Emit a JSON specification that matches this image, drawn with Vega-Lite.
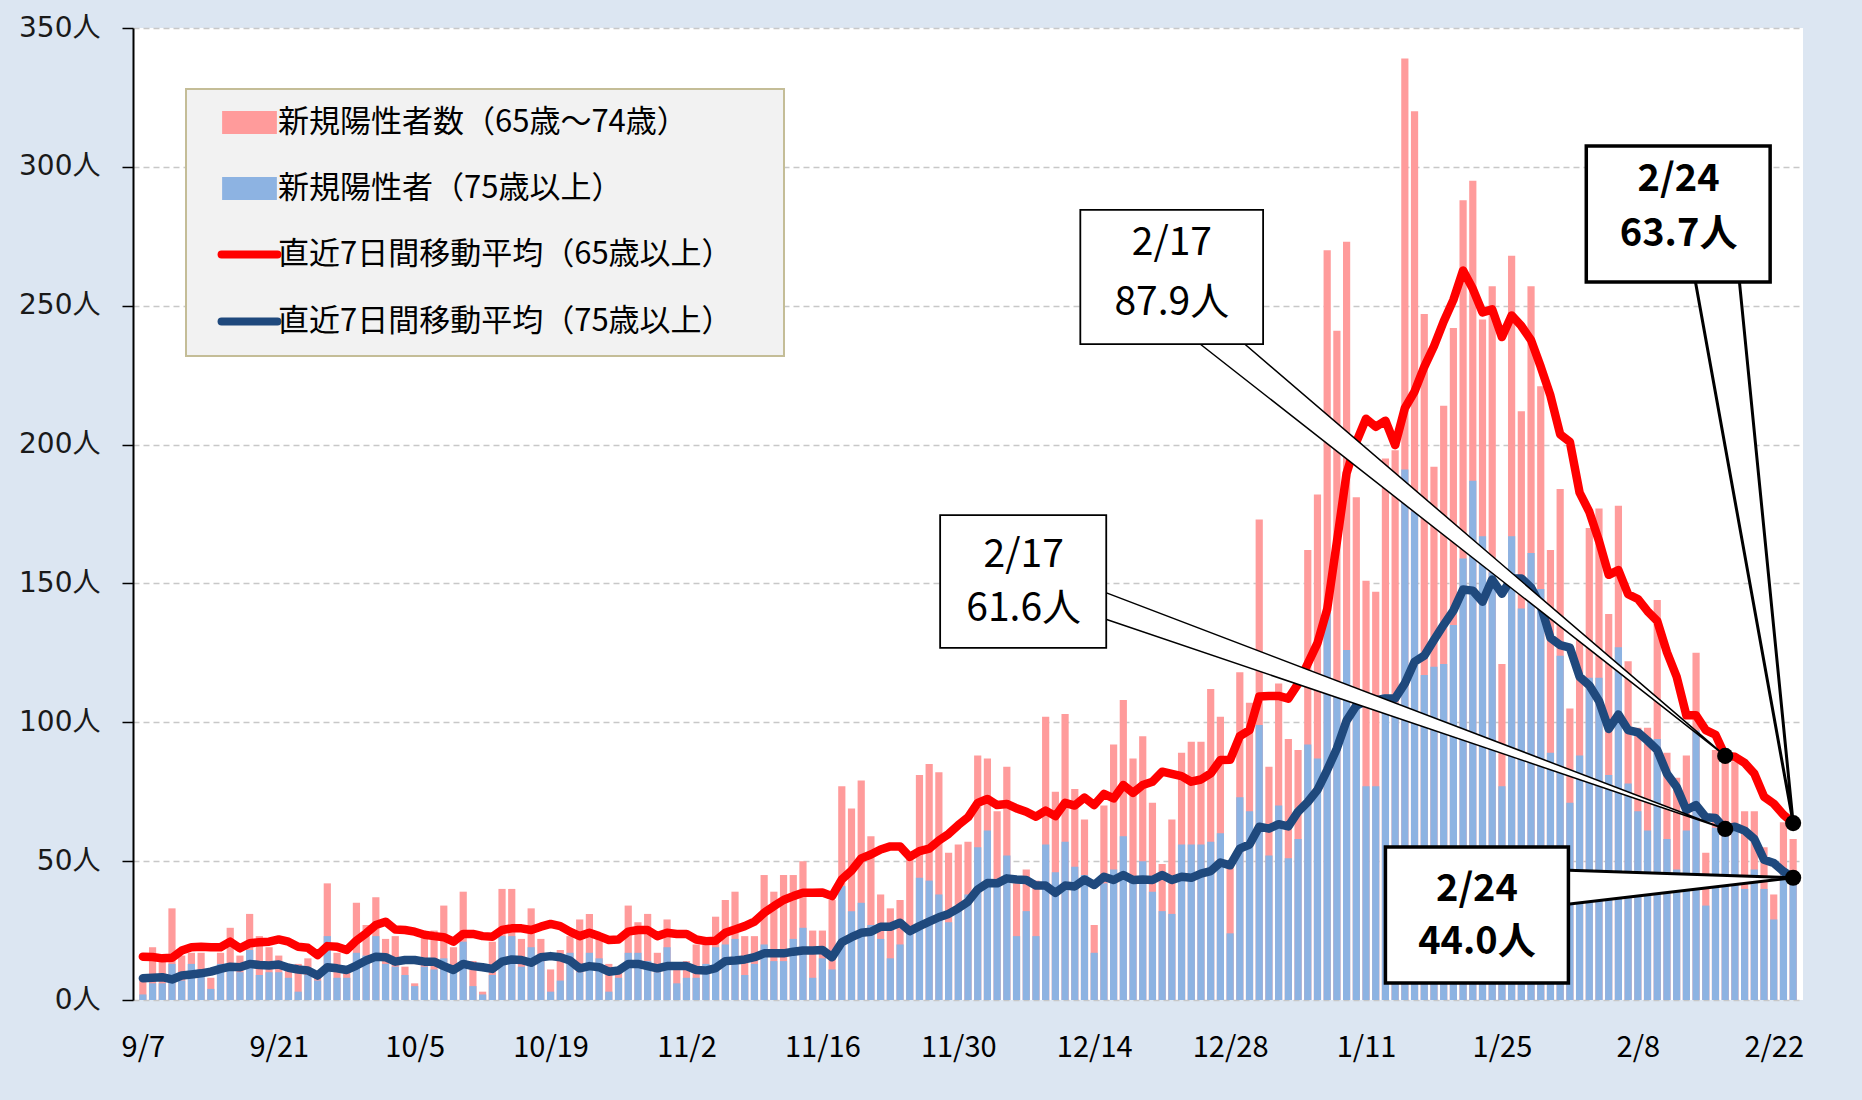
{
  "$schema": "https://vega.github.io/schema/vega-lite/v6.json",
  "width": 1670,
  "height": 972,
  "autosize": {"type": "none"},
  "padding": {"left": 133, "top": 28, "right": 59, "bottom": 100},
  "background": "#dce6f2",
  "config": {
    "view": {"fill": "white", "stroke": null},
    "font": "Noto Sans CJK JP"
  },
  "datasets": {
    "daily": [
      {"date":"2020-09-07","total65":7,"over75":2,"avg65":15.6,"avg75":7.8},
      {"date":"2020-09-08","total65":19,"over75":6,"avg65":15.5,"avg75":8.0},
      {"date":"2020-09-09","total65":14,"over75":6,"avg65":15.0,"avg75":8.2},
      {"date":"2020-09-10","total65":33,"over75":13,"avg65":15.2,"avg75":7.4},
      {"date":"2020-09-11","total65":16,"over75":7,"avg65":17.8,"avg75":8.8},
      {"date":"2020-09-12","total65":17,"over75":13,"avg65":19.0,"avg75":9.2},
      {"date":"2020-09-13","total65":17,"over75":11,"avg65":19.2,"avg75":9.6},
      {"date":"2020-09-14","total65":8,"over75":4,"avg65":19.0,"avg75":10.2},
      {"date":"2020-09-15","total65":17,"over75":13,"avg65":19.0,"avg75":11.2},
      {"date":"2020-09-16","total65":26,"over75":12,"avg65":21.0,"avg75":12.0},
      {"date":"2020-09-17","total65":16,"over75":10,"avg65":18.6,"avg75":11.8},
      {"date":"2020-09-18","total65":31,"over75":18,"avg65":20.4,"avg75":13.0},
      {"date":"2020-09-19","total65":23,"over75":9,"avg65":20.8,"avg75":12.6},
      {"date":"2020-09-20","total65":19,"over75":10,"avg65":21.0,"avg75":12.4},
      {"date":"2020-09-21","total65":16,"over75":10,"avg65":21.8,"avg75":12.8},
      {"date":"2020-09-22","total65":13,"over75":8,"avg65":21.0,"avg75":11.6},
      {"date":"2020-09-23","total65":13,"over75":3,"avg65":19.2,"avg75":11.0},
      {"date":"2020-09-24","total65":15,"over75":9,"avg65":18.8,"avg75":10.6},
      {"date":"2020-09-25","total65":10,"over75":7,"avg65":16.2,"avg75":8.8},
      {"date":"2020-09-26","total65":42,"over75":23,"avg65":19.4,"avg75":11.8},
      {"date":"2020-09-27","total65":17,"over75":8,"avg65":19.2,"avg75":11.4},
      {"date":"2020-09-28","total65":10,"over75":8,"avg65":18.0,"avg75":10.8},
      {"date":"2020-09-29","total65":35,"over75":17,"avg65":21.4,"avg75":12.4},
      {"date":"2020-09-30","total65":27,"over75":16,"avg65":24.0,"avg75":14.2},
      {"date":"2020-10-01","total65":37,"over75":23,"avg65":27.0,"avg75":15.6},
      {"date":"2020-10-02","total65":22,"over75":13,"avg65":28.2,"avg75":15.4},
      {"date":"2020-10-03","total65":23,"over75":12,"avg65":25.4,"avg75":13.8},
      {"date":"2020-10-04","total65":12,"over75":9,"avg65":25.2,"avg75":14.4},
      {"date":"2020-10-05","total65":6,"over75":5,"avg65":24.6,"avg75":14.4},
      {"date":"2020-10-06","total65":23,"over75":12,"avg65":23.5,"avg75":13.8},
      {"date":"2020-10-07","total65":25,"over75":11,"avg65":23.0,"avg75":13.8},
      {"date":"2020-10-08","total65":34,"over75":15,"avg65":22.6,"avg75":12.2},
      {"date":"2020-10-09","total65":19,"over75":10,"avg65":21.0,"avg75":10.8},
      {"date":"2020-10-10","total65":39,"over75":21,"avg65":23.8,"avg75":13.0},
      {"date":"2020-10-11","total65":14,"over75":5,"avg65":23.8,"avg75":12.2},
      {"date":"2020-10-12","total65":3,"over75":2,"avg65":23.0,"avg75":11.8},
      {"date":"2020-10-13","total65":21,"over75":9,"avg65":22.8,"avg75":11.2},
      {"date":"2020-10-14","total65":40,"over75":23,"avg65":25.2,"avg75":13.8},
      {"date":"2020-10-15","total65":40,"over75":23,"avg65":25.8,"avg75":14.6},
      {"date":"2020-10-16","total65":22,"over75":12,"avg65":25.8,"avg75":14.4},
      {"date":"2020-10-17","total65":33,"over75":19,"avg65":25.2,"avg75":13.4},
      {"date":"2020-10-18","total65":22,"over75":14,"avg65":26.4,"avg75":15.4},
      {"date":"2020-10-19","total65":11,"over75":3,"avg65":27.4,"avg75":15.8},
      {"date":"2020-10-20","total65":18,"over75":7,"avg65":26.6,"avg75":15.4},
      {"date":"2020-10-21","total65":23,"over75":17,"avg65":24.6,"avg75":14.2},
      {"date":"2020-10-22","total65":29,"over75":10,"avg65":23.0,"avg75":11.4},
      {"date":"2020-10-23","total65":31,"over75":17,"avg65":24.2,"avg75":12.2},
      {"date":"2020-10-24","total65":22,"over75":15,"avg65":23.0,"avg75":11.8},
      {"date":"2020-10-25","total65":13,"over75":3,"avg65":21.6,"avg75":10.2},
      {"date":"2020-10-26","total65":10,"over75":8,"avg65":21.8,"avg75":10.6},
      {"date":"2020-10-27","total65":34,"over75":17,"avg65":24.6,"avg75":13.0},
      {"date":"2020-10-28","total65":28,"over75":17,"avg65":25.2,"avg75":13.0},
      {"date":"2020-10-29","total65":31,"over75":14,"avg65":25.2,"avg75":12.2},
      {"date":"2020-10-30","total65":17,"over75":10,"avg65":23.0,"avg75":11.4},
      {"date":"2020-10-31","total65":29,"over75":19,"avg65":24.2,"avg75":12.2},
      {"date":"2020-11-01","total65":11,"over75":6,"avg65":23.8,"avg75":12.2},
      {"date":"2020-11-02","total65":14,"over75":8,"avg65":23.8,"avg75":12.2},
      {"date":"2020-11-03","total65":20,"over75":8,"avg65":21.8,"avg75":10.8},
      {"date":"2020-11-04","total65":20,"over75":13,"avg65":21.2,"avg75":10.6},
      {"date":"2020-11-05","total65":30,"over75":19,"avg65":21.3,"avg75":11.5},
      {"date":"2020-11-06","total65":36,"over75":20,"avg65":24.2,"avg75":14.0},
      {"date":"2020-11-07","total65":39,"over75":22,"avg65":25.4,"avg75":14.2},
      {"date":"2020-11-08","total65":23,"over75":9,"avg65":26.6,"avg75":14.6},
      {"date":"2020-11-09","total65":23,"over75":13,"avg65":28.2,"avg75":15.4},
      {"date":"2020-11-10","total65":45,"over75":20,"avg65":31.4,"avg75":16.8},
      {"date":"2020-11-11","total65":39,"over75":14,"avg65":33.8,"avg75":16.8},
      {"date":"2020-11-12","total65":45,"over75":14,"avg65":36.0,"avg75":16.8},
      {"date":"2020-11-13","total65":45,"over75":22,"avg65":37.4,"avg75":17.4},
      {"date":"2020-11-14","total65":50,"over75":26,"avg65":38.6,"avg75":17.8},
      {"date":"2020-11-15","total65":25,"over75":8,"avg65":38.6,"avg75":17.8},
      {"date":"2020-11-16","total65":25,"over75":15,"avg65":38.7,"avg75":18.0},
      {"date":"2020-11-17","total65":36,"over75":11,"avg65":37.4,"avg75":15.4},
      {"date":"2020-11-18","total65":77,"over75":41,"avg65":43.4,"avg75":20.8},
      {"date":"2020-11-19","total65":69,"over75":32,"avg65":46.6,"avg75":22.6},
      {"date":"2020-11-20","total65":79,"over75":35,"avg65":51.0,"avg75":24.2},
      {"date":"2020-11-21","total65":59,"over75":27,"avg65":52.4,"avg75":24.6},
      {"date":"2020-11-22","total65":38,"over75":22,"avg65":54.2,"avg75":26.4},
      {"date":"2020-11-23","total65":33,"over75":15,"avg65":55.3,"avg75":26.4},
      {"date":"2020-11-24","total65":36,"over75":20,"avg65":55.3,"avg75":27.8},
      {"date":"2020-11-25","total65":52,"over75":24,"avg65":51.5,"avg75":24.8},
      {"date":"2020-11-26","total65":81,"over75":44,"avg65":53.6,"avg75":26.6},
      {"date":"2020-11-27","total65":85,"over75":43,"avg65":54.5,"avg75":28.2},
      {"date":"2020-11-28","total65":82,"over75":38,"avg65":57.4,"avg75":29.8},
      {"date":"2020-11-29","total65":53,"over75":28,"avg65":59.8,"avg75":31.0},
      {"date":"2020-11-30","total65":56,"over75":32,"avg65":63.0,"avg75":33.0},
      {"date":"2020-12-01","total65":57,"over75":38,"avg65":65.8,"avg75":35.4},
      {"date":"2020-12-02","total65":88,"over75":55,"avg65":71.0,"avg75":39.8},
      {"date":"2020-12-03","total65":87,"over75":61,"avg65":72.4,"avg75":42.1},
      {"date":"2020-12-04","total65":68,"over75":42,"avg65":70.2,"avg75":42.0},
      {"date":"2020-12-05","total65":84,"over75":52,"avg65":70.6,"avg75":43.8},
      {"date":"2020-12-06","total65":42,"over75":23,"avg65":69.0,"avg75":43.4},
      {"date":"2020-12-07","total65":47,"over75":32,"avg65":67.8,"avg75":43.2},
      {"date":"2020-12-08","total65":43,"over75":23,"avg65":66.0,"avg75":41.2},
      {"date":"2020-12-09","total65":102,"over75":56,"avg65":68.2,"avg75":41.2},
      {"date":"2020-12-10","total65":75,"over75":46,"avg65":66.2,"avg75":38.6},
      {"date":"2020-12-11","total65":103,"over75":57,"avg65":71.0,"avg75":41.2},
      {"date":"2020-12-12","total65":76,"over75":48,"avg65":70.0,"avg75":40.9},
      {"date":"2020-12-13","total65":65,"over75":45,"avg65":72.9,"avg75":43.4},
      {"date":"2020-12-14","total65":27,"over75":17,"avg65":70.2,"avg75":41.4},
      {"date":"2020-12-15","total65":70,"over75":42,"avg65":74.2,"avg75":44.4},
      {"date":"2020-12-16","total65":92,"over75":47,"avg65":72.6,"avg75":43.2},
      {"date":"2020-12-17","total65":108,"over75":59,"avg65":77.4,"avg75":45.0},
      {"date":"2020-12-18","total65":87,"over75":44,"avg65":74.6,"avg75":43.2},
      {"date":"2020-12-19","total65":95,"over75":50,"avg65":77.4,"avg75":43.4},
      {"date":"2020-12-20","total65":71,"over75":39,"avg65":78.6,"avg75":43.2},
      {"date":"2020-12-21","total65":49,"over75":32,"avg65":82.2,"avg75":45.0},
      {"date":"2020-12-22","total65":65,"over75":31,"avg65":81.4,"avg75":43.2},
      {"date":"2020-12-23","total65":89,"over75":56,"avg65":80.6,"avg75":44.4},
      {"date":"2020-12-24","total65":93,"over75":56,"avg65":78.6,"avg75":44.0},
      {"date":"2020-12-25","total65":93,"over75":56,"avg65":79.4,"avg75":45.5},
      {"date":"2020-12-26","total65":112,"over75":57,"avg65":81.6,"avg75":46.4},
      {"date":"2020-12-27","total65":102,"over75":60,"avg65":86.4,"avg75":49.5},
      {"date":"2020-12-28","total65":50,"over75":24,"avg65":86.5,"avg75":48.5},
      {"date":"2020-12-29","total65":118,"over75":73,"avg65":95.0,"avg75":54.5},
      {"date":"2020-12-30","total65":107,"over75":68,"avg65":97.2,"avg75":56.0},
      {"date":"2020-12-31","total65":173,"over75":99,"avg65":109.3,"avg75":62.4},
      {"date":"2021-01-01","total65":84,"over75":52,"avg65":109.5,"avg75":61.7},
      {"date":"2021-01-02","total65":114,"over75":70,"avg65":109.5,"avg75":63.3},
      {"date":"2021-01-03","total65":94,"over75":51,"avg65":108.5,"avg75":62.5},
      {"date":"2021-01-04","total65":90,"over75":58,"avg65":113.8,"avg75":67.8},
      {"date":"2021-01-05","total65":162,"over75":92,"avg65":121.1,"avg75":71.3},
      {"date":"2021-01-06","total65":182,"over75":87,"avg65":128.5,"avg75":75.7},
      {"date":"2021-01-07","total65":270,"over75":140,"avg65":140.7,"avg75":82.8},
      {"date":"2021-01-08","total65":241,"over75":110,"avg65":165.0,"avg75":90.6},
      {"date":"2021-01-09","total65":273,"over75":126,"avg65":189.7,"avg75":100.6},
      {"date":"2021-01-10","total65":181,"over75":106,"avg65":200.9,"avg75":106.0},
      {"date":"2021-01-11","total65":151,"over75":77,"avg65":209.3,"avg75":107.5},
      {"date":"2021-01-12","total65":147,"over75":77,"avg65":206.4,"avg75":108.0},
      {"date":"2021-01-13","total65":195,"over75":110,"avg65":208.6,"avg75":108.6},
      {"date":"2021-01-14","total65":198,"over75":107,"avg65":199.8,"avg75":108.6},
      {"date":"2021-01-15","total65":339,"over75":191,"avg65":213.1,"avg75":114.0},
      {"date":"2021-01-16","total65":320,"over75":176,"avg65":219.1,"avg75":121.8},
      {"date":"2021-01-17","total65":247,"over75":117,"avg65":228.0,"avg75":124.0},
      {"date":"2021-01-18","total65":192,"over75":120,"avg65":235.4,"avg75":129.6},
      {"date":"2021-01-19","total65":214,"over75":121,"avg65":244.3,"avg75":135.1},
      {"date":"2021-01-20","total65":242,"over75":135,"avg65":252.1,"avg75":140.2},
      {"date":"2021-01-21","total65":288,"over75":159,"avg65":262.7,"avg75":147.8},
      {"date":"2021-01-22","total65":295,"over75":187,"avg65":256.1,"avg75":147.4},
      {"date":"2021-01-23","total65":245,"over75":167,"avg65":247.6,"avg75":143.4},
      {"date":"2021-01-24","total65":257,"over75":154,"avg65":248.7,"avg75":151.4},
      {"date":"2021-01-25","total65":121,"over75":77,"avg65":238.7,"avg75":146.3},
      {"date":"2021-01-26","total65":268,"over75":167,"avg65":246.5,"avg75":151.8},
      {"date":"2021-01-27","total65":212,"over75":141,"avg65":242.7,"avg75":151.8},
      {"date":"2021-01-28","total65":257,"over75":161,"avg65":237.6,"avg75":148.5},
      {"date":"2021-01-29","total65":221,"over75":148,"avg65":228.0,"avg75":142.0},
      {"date":"2021-01-30","total65":162,"over75":89,"avg65":217.6,"avg75":130.4},
      {"date":"2021-01-31","total65":184,"over75":124,"avg65":203.7,"avg75":127.8},
      {"date":"2021-02-01","total65":105,"over75":71,"avg65":201.0,"avg75":126.9},
      {"date":"2021-02-02","total65":132,"over75":88,"avg65":182.7,"avg75":116.4},
      {"date":"2021-02-03","total65":170,"over75":116,"avg65":175.8,"avg75":113.3},
      {"date":"2021-02-04","total65":177,"over75":116,"avg65":165.3,"avg75":107.7},
      {"date":"2021-02-05","total65":139,"over75":81,"avg65":153.1,"avg75":97.6},
      {"date":"2021-02-06","total65":178,"over75":127,"avg65":154.8,"avg75":102.8},
      {"date":"2021-02-07","total65":122,"over75":78,"avg65":146.1,"avg75":97.2},
      {"date":"2021-02-08","total65":98,"over75":68,"avg65":144.4,"avg75":96.4},
      {"date":"2021-02-09","total65":98,"over75":61,"avg65":140.0,"avg75":93.4},
      {"date":"2021-02-10","total65":144,"over75":94,"avg65":136.5,"avg75":90.0},
      {"date":"2021-02-11","total65":89,"over75":58,"avg65":125.2,"avg75":81.5},
      {"date":"2021-02-12","total65":80,"over75":47,"avg65":116.4,"avg75":76.7},
      {"date":"2021-02-13","total65":88,"over75":61,"avg65":102.5,"avg75":68.4},
      {"date":"2021-02-14","total65":125,"over75":97,"avg65":102.5,"avg75":70.2},
      {"date":"2021-02-15","total65":53,"over75":34,"avg65":97.2,"avg75":65.8},
      {"date":"2021-02-16","total65":90,"over75":62,"avg65":95.5,"avg75":65.5},
      {"date":"2021-02-17","total65":88,"over75":64,"avg65":87.9,"avg75":61.6},
      {"date":"2021-02-18","total65":86,"over75":61,"avg65":87.6,"avg75":62.4},
      {"date":"2021-02-19","total65":68,"over75":40,"avg65":85.4,"avg75":61.0},
      {"date":"2021-02-20","total65":68,"over75":47,"avg65":81.5,"avg75":58.0},
      {"date":"2021-02-21","total65":55,"over75":40,"avg65":73.2,"avg75":50.5},
      {"date":"2021-02-22","total65":38,"over75":29,"avg65":70.7,"avg75":49.3},
      {"date":"2021-02-23","total65":64,"over75":45,"avg65":66.7,"avg75":46.3},
      {"date":"2021-02-24","total65":58,"over75":44,"avg65":63.7,"avg75":44.0}
    ],
    "wedges": [
      {"day":"2/17","id":"a","k":0,"date":"2020-12-23T12:43:00Z","v":240},
      {"day":"2/17","id":"a","k":1,"date":"2021-02-17T00:00:00Z","v":87.9},
      {"day":"2/17","id":"a","k":2,"date":"2020-12-28T05:46:00Z","v":240},
      {"day":"2/17","id":"b","k":0,"date":"2020-12-14T12:29:00Z","v":147.6},
      {"day":"2/17","id":"b","k":1,"date":"2021-02-17T00:00:00Z","v":61.6},
      {"day":"2/17","id":"b","k":2,"date":"2020-12-14T12:29:00Z","v":137.9},
      {"day":"2/24","id":"c","k":0,"date":"2021-02-13T18:14:00Z","v":262},
      {"day":"2/24","id":"c","k":1,"date":"2021-02-24T00:00:00Z","v":63.7},
      {"day":"2/24","id":"c","k":2,"date":"2021-02-18T08:53:00Z","v":262},
      {"day":"2/24","id":"d","k":0,"date":"2021-01-31T02:24:00Z","v":46.8},
      {"day":"2/24","id":"d","k":1,"date":"2021-02-24T00:00:00Z","v":44.0},
      {"day":"2/24","id":"d","k":2,"date":"2021-01-31T02:24:00Z","v":34.2}
    ],
    "boxes": [
      {"day":"2/17","xa":"2020-12-12T13:41:00Z","xb":"2020-12-31T09:36:00Z","ya":284.5,"yb":236.2},
      {"day":"2/17","xa":"2020-11-28T03:07:00Z","xb":"2020-12-15T05:46:00Z","ya":174.6,"yb":126.8},
      {"day":"2/24","xa":"2021-02-02T16:34:00Z","xb":"2021-02-21T15:07:00Z","ya":307.5,"yb":258.5},
      {"day":"2/24","xa":"2021-01-13T00:00:00Z","xb":"2021-01-31T20:24:00Z","ya":55.1,"yb":6.1}
    ],
    "labels": [
      {"day":"2/17","text":"2/17","x":"2020-12-22T00:00:00Z","v":272.6},
      {"day":"2/17","text":"87.9人","x":"2020-12-22T00:00:00Z","v":251.0},
      {"day":"2/17","text":"2/17","x":"2020-12-06T17:46:00Z","v":160.4},
      {"day":"2/17","text":"61.6人","x":"2020-12-06T17:46:00Z","v":140.7},
      {"day":"2/24","text":"2/24","x":"2021-02-12T04:48:00Z","v":295.2},
      {"day":"2/24","text":"63.7人","x":"2021-02-12T04:48:00Z","v":275.6},
      {"day":"2/24","text":"2/24","x":"2021-01-22T10:19:00Z","v":39.6},
      {"day":"2/24","text":"44.0人","x":"2021-01-22T10:19:00Z","v":20.6}
    ],
    "dots": [
      {"date":"2021-02-17","v":87.9},
      {"date":"2021-02-17","v":61.6},
      {"date":"2021-02-24","v":63.7},
      {"date":"2021-02-24","v":44.0}
    ]
  },
  "layer": [
    {
      "data": {"name": "daily"},
      "mark": {"type": "bar", "width": 7.2},
      "encoding": {
        "x": {
          "field": "date", "type": "temporal", "title": null,
          "scale": {"type": "utc", "domain": [{"year": 2020, "month": 9, "date": 6, "hours": 12, "utc": true}, {"year": 2021, "month": 2, "date": 24, "hours": 12, "utc": true}]},
          "axis": {
            "values": [
              {"year": 2020, "month": 9, "date": 7, "utc": true},
              {"year": 2020, "month": 9, "date": 21, "utc": true},
              {"year": 2020, "month": 10, "date": 5, "utc": true},
              {"year": 2020, "month": 10, "date": 19, "utc": true},
              {"year": 2020, "month": 11, "date": 2, "utc": true},
              {"year": 2020, "month": 11, "date": 16, "utc": true},
              {"year": 2020, "month": 11, "date": 30, "utc": true},
              {"year": 2020, "month": 12, "date": 14, "utc": true},
              {"year": 2020, "month": 12, "date": 28, "utc": true},
              {"year": 2021, "month": 1, "date": 11, "utc": true},
              {"year": 2021, "month": 1, "date": 25, "utc": true},
              {"year": 2021, "month": 2, "date": 8, "utc": true},
              {"year": 2021, "month": 2, "date": 22, "utc": true}
            ],
            "labelExpr": "utcFormat(datum.value, '%-m/%-d')",
            "labelFont": "Noto Sans CJK JP", "labelFontSize": 29, "labelColor": "black",
            "labelPadding": 33, "ticks": false, "domain": false, "grid": false,
            "labelOverlap": false, "labelFlush": false, "title": null
          }
        },
        "y": {
          "field": "total65", "type": "quantitative", "title": null, "stack": null,
          "scale": {"domain": [0, 350], "nice": false},
          "axis": {
            "values": [0, 50, 100, 150, 200, 250, 300, 350],
            "labelExpr": "datum.value + '人'",
            "labelFont": "DejaVu Sans, Noto Sans CJK JP", "labelFontSize": 28, "labelColor": "#1a1a1a",
            "labelPadding": 22, "tickSize": 11, "tickColor": "black", "tickWidth": 1.5,
            "domainColor": "black", "domainWidth": 2,
            "grid": true, "gridColor": "#c8c8c8", "gridDash": [6, 4], "gridWidth": 1.3,
            "title": null
          }
        },
        "color": {
          "datum": "新規陽性者数（65歳～74歳）", "type": "nominal",
          "scale": {
            "domain": ["新規陽性者数（65歳～74歳）", "新規陽性者（75歳以上）", "直近7日間移動平均（65歳以上）", "直近7日間移動平均（75歳以上）"],
            "range": ["#ff9b9b", "#8db3e2", "#ff0000", "#1f497d"]
          },
          "legend": {
            "orient": "none", "legendX": 53, "legendY": 61,
            "title": "　", "titleOrient": "right", "titleFontSize": 4, "titlePadding": 33,
            "fillColor": "#f2f2f2", "strokeColor": "#c4bd97",
            "padding": 18, "rowPadding": 34, "symbolOffset": 30, "symbolSize": 3000,
            "symbolType": "M-1,-0.42H1V0.42H-1Z", "symbolStrokeWidth": 0,
            "labelFont": "Noto Sans CJK JP", "labelFontSize": 31, "labelColor": "black",
            "labelOffset": 13, "labelLimit": 0,
            "encoding": {
              "legend": {"strokeWidth": {"value": 2}},
              "symbols": {
                "shape": {"value": {"expr": "datum.index < 2 ? 'M-1,-0.42H1V0.42H-1Z' : 'M-1.02,0H1.02'"}},
                "fill": {"value": {"expr": "datum.index == 0 ? '#ff9b9b' : datum.index == 1 ? '#8db3e2' : 'transparent'"}},
                "stroke": {"value": {"expr": "datum.index == 2 ? '#ff0000' : datum.index == 3 ? '#1f497d' : 'transparent'"}},
                "strokeWidth": {"value": {"expr": "datum.index < 2 ? 0 : 8"}},
                "strokeCap": {"value": "round"},
                "opacity": {"value": 1}
              }
            }
          }
        }
      }
    },
    {
      "data": {"name": "daily"},
      "mark": {"type": "bar", "width": 7.2},
      "encoding": {
        "x": {"field": "date", "type": "temporal", "title": null},
        "y": {"field": "over75", "type": "quantitative", "title": null, "stack": null},
        "color": {"datum": "新規陽性者（75歳以上）", "type": "nominal"}
      }
    },
    {
      "data": {"name": "daily"},
      "mark": {"type": "line", "strokeWidth": 8.5, "strokeCap": "round", "strokeJoin": "round"},
      "encoding": {
        "x": {"field": "date", "type": "temporal", "title": null},
        "y": {"field": "avg65", "type": "quantitative", "title": null},
        "color": {"datum": "直近7日間移動平均（65歳以上）", "type": "nominal"}
      }
    },
    {
      "data": {"name": "daily"},
      "mark": {"type": "line", "strokeWidth": 8.5, "strokeCap": "round", "strokeJoin": "round"},
      "encoding": {
        "x": {"field": "date", "type": "temporal", "title": null},
        "y": {"field": "avg75", "type": "quantitative", "title": null},
        "color": {"datum": "直近7日間移動平均（75歳以上）", "type": "nominal"}
      }
    },
    {
      "data": {"name": "wedges"},
      "transform": [{"filter": "datum.day === '2/17'"}],
      "mark": {"type": "line", "fill": "white", "stroke": "black", "strokeWidth": 1.5, "strokeJoin": "miter"},
      "encoding": {
        "x": {"field": "date", "type": "temporal", "title": null},
        "y": {"field": "v", "type": "quantitative", "title": null},
        "detail": {"field": "id", "type": "nominal"},
        "order": {"field": "k", "type": "quantitative"}
      }
    },
    {
      "data": {"name": "wedges"},
      "transform": [{"filter": "datum.day === '2/24'"}],
      "mark": {"type": "line", "fill": "white", "stroke": "black", "strokeWidth": 3, "strokeJoin": "miter"},
      "encoding": {
        "x": {"field": "date", "type": "temporal", "title": null},
        "y": {"field": "v", "type": "quantitative", "title": null},
        "detail": {"field": "id", "type": "nominal"},
        "order": {"field": "k", "type": "quantitative"}
      }
    },
    {
      "data": {"name": "boxes"},
      "transform": [{"filter": "datum.day === '2/17'"}],
      "mark": {"type": "rect", "fill": "white", "stroke": "black", "strokeWidth": 1.8},
      "encoding": {
        "x": {"field": "xa", "type": "temporal", "title": null},
        "x2": {"field": "xb"},
        "y": {"field": "ya", "type": "quantitative", "title": null},
        "y2": {"field": "yb"}
      }
    },
    {
      "data": {"name": "boxes"},
      "transform": [{"filter": "datum.day === '2/24'"}],
      "mark": {"type": "rect", "fill": "white", "stroke": "black", "strokeWidth": 3.5},
      "encoding": {
        "x": {"field": "xa", "type": "temporal", "title": null},
        "x2": {"field": "xb"},
        "y": {"field": "ya", "type": "quantitative", "title": null},
        "y2": {"field": "yb"}
      }
    },
    {
      "data": {"name": "labels"},
      "transform": [{"filter": "datum.day === '2/17'"}],
      "mark": {"type": "text", "font": "Noto Sans CJK JP", "fontSize": 39, "align": "center", "baseline": "middle", "color": "black"},
      "encoding": {
        "x": {"field": "x", "type": "temporal", "title": null},
        "y": {"field": "v", "type": "quantitative", "title": null},
        "text": {"field": "text", "type": "nominal"}
      }
    },
    {
      "data": {"name": "labels"},
      "transform": [{"filter": "datum.day === '2/24'"}],
      "mark": {"type": "text", "font": "Noto Sans CJK JP", "fontSize": 38, "fontWeight": "bold", "align": "center", "baseline": "middle", "color": "black"},
      "encoding": {
        "x": {"field": "x", "type": "temporal", "title": null},
        "y": {"field": "v", "type": "quantitative", "title": null},
        "text": {"field": "text", "type": "nominal"}
      }
    },
    {
      "data": {"name": "dots"},
      "mark": {"type": "circle", "size": 260, "color": "black", "opacity": 1},
      "encoding": {
        "x": {"field": "date", "type": "temporal", "title": null},
        "y": {"field": "v", "type": "quantitative", "title": null}
      }
    }
  ]
}
